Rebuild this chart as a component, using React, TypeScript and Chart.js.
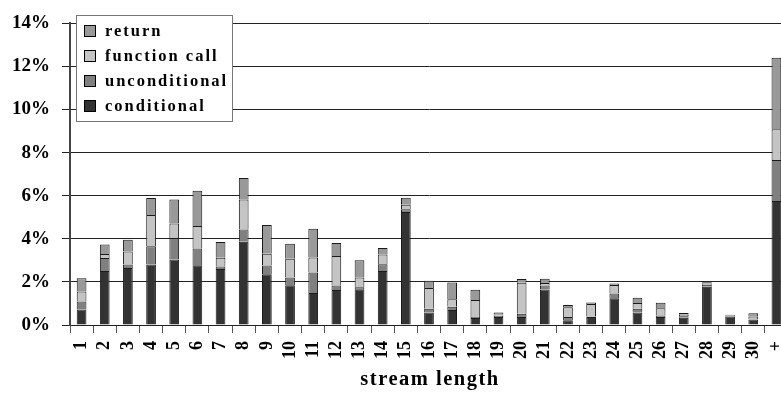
import React, { useEffect, useRef } from 'react';
import { Chart, registerables } from 'chart.js';

Chart.register(...registerables);

const categories = ['1', '2', '3', '4', '5', '6', '7', '8', '9', '10', '11', '12', '13', '14', '15', '16', '17', '18', '19', '20', '21', '22', '23', '24', '25', '26', '27', '28', '29', '30', '+'];
const conditional = [0.72, 2.51, 2.65, 2.81, 3.04, 2.77, 2.60, 3.87, 2.36, 1.84, 1.48, 1.62, 1.66, 2.51, 5.25, 0.58, 0.70, 0.33, 0.37, 0.37, 1.65, 0.22, 0.37, 1.24, 0.58, 0.37, 0.34, 1.78, 0.40, 0.25, 5.76];
const unconditional = [0.37, 0.60, 0.16, 0.85, 1.00, 0.78, 0.12, 0.56, 0.40, 0.36, 0.96, 0.21, 0.09, 0.31, 0.12, 0.17, 0.15, 0.04, 0.06, 0.15, 0.18, 0.15, 0.03, 0.22, 0.17, 0.07, 0.07, 0.09, 0.03, 0.02, 1.90];
const functionCall = [0.47, 0.18, 0.60, 1.45, 0.67, 1.05, 0.40, 1.39, 0.55, 0.88, 0.69, 1.37, 0.46, 0.45, 0.21, 0.97, 0.35, 0.79, 0.06, 1.44, 0.12, 0.45, 0.57, 0.40, 0.27, 0.34, 0.06, 0.04, 0.00, 0.13, 1.43];
const returns = [0.61, 0.45, 0.55, 0.79, 1.11, 1.63, 0.73, 1.00, 1.33, 0.69, 1.34, 0.61, 0.80, 0.30, 0.33, 0.33, 0.77, 0.48, 0.09, 0.18, 0.20, 0.11, 0.08, 0.07, 0.25, 0.25, 0.09, 0.07, 0.05, 0.15, 3.31];
const seriesLabels = ['conditional', 'unconditional', 'function call', 'return'];
const seriesColors = ['#333333', '#808080', '#c4c4c4', '#999999'];
const yMax = 14;
const yStep = 2;
const xTitle = 'stream length';

const FONT = '"Liberation Serif", "Times New Roman", serif';

const overlayPlugin = {
  id: 'overlayLegendTitle',
  afterDraw(chart: any) {
    const ctx = chart.ctx as CanvasRenderingContext2D;
    const area = chart.chartArea;
    const datasets = chart.data.datasets;
    ctx.save();
    // legend box
    const bx = area.left + 6;
    const by = 15;
    const bw = 156;
    const bh = 106;
    ctx.fillStyle = '#ffffff';
    ctx.fillRect(bx, by, bw, bh);
    ctx.strokeStyle = '#777777';
    ctx.lineWidth = 1;
    ctx.strokeRect(bx + 0.5, by + 0.5, bw, bh);
    const order = [...datasets].reverse();
    order.forEach((ds: any, i: number) => {
      const cy = by + 16 + i * 25;
      ctx.fillStyle = ds.backgroundColor;
      ctx.fillRect(bx + 8, cy - 6, 12, 12);
      ctx.strokeStyle = '#000000';
      ctx.lineWidth = 1;
      ctx.strokeRect(bx + 8.5, cy - 5.5, 11, 11);
      ctx.fillStyle = '#000000';
      ctx.font = 'bold 16.5px ' + FONT;
      ctx.textBaseline = 'middle';
      ctx.textAlign = 'left';
      (ctx as any).letterSpacing = '2px';
      ctx.fillText(ds.label, bx + 29, cy + 1);
    });
    // axis title
    ctx.font = 'bold 20.5px ' + FONT;
    (ctx as any).letterSpacing = '1.5px';
    ctx.textAlign = 'center';
    ctx.textBaseline = 'alphabetic';
    ctx.fillStyle = '#000000';
    ctx.fillText(xTitle, (area.left + area.right) / 2 + 1, 385);
    ctx.restore();
  },
};

export default function App() {
  const canvasRef = useRef<HTMLCanvasElement | null>(null);

  useEffect(() => {
    const canvas = canvasRef.current;
    if (!canvas) return;
    const seriesData = [conditional, unconditional, functionCall, returns];
    const chart = new Chart(canvas, {
      type: 'bar',
      data: {
        labels: categories,
        datasets: seriesData.map((d, i) => ({
          label: seriesLabels[i],
          data: d,
          backgroundColor: seriesColors[i],
          borderColor: '#1a1a1a',
          borderWidth: 1,
          barPercentage: 0.42,
          categoryPercentage: 1,
        })),
      },
      options: {
        responsive: false,
        animation: false,
        devicePixelRatio: 1,
        layout: { padding: { top: 11, left: 0, right: 0, bottom: 0 } },
        plugins: {
          legend: { display: false },
          tooltip: { enabled: false },
          title: { display: false },
        },
        scales: {
          x: {
            stacked: true,
            grid: { drawOnChartArea: false, drawTicks: true, tickLength: 8, color: '#555555', offset: true },
            border: { display: true, color: '#222222', width: 1 },
            ticks: {
              minRotation: 90,
              maxRotation: 90,
              autoSkip: false,
              padding: 8,
              color: '#000000',
              font: { family: FONT, size: 18, weight: 'bold' },
            },
            afterFit: (s: any) => {
              s.height = 68;
              s.paddingLeft = 0;
              s.paddingRight = 0;
            },
          },
          y: {
            stacked: true,
            min: 0,
            max: yMax,
            ticks: {
              stepSize: yStep,
              padding: 12,
              color: '#000000',
              font: { family: FONT, size: 19, weight: 'bold' },
              callback: (v: any) => v + '%',
            },
            grid: { color: '#222222', lineWidth: 1, tickLength: 8 },
            border: { display: true, color: '#444444', width: 2 },
            afterFit: (s: any) => {
              s.width = 70;
            },
          },
        },
      },
      plugins: [overlayPlugin],
    } as any);
    return () => chart.destroy();
  }, []);

  return (
    <div style={{ position: 'absolute', left: 0, top: 0, width: 781, height: 393, overflow: 'hidden', background: '#ffffff' }}>
      <canvas ref={canvasRef} width={788} height={393} style={{ display: 'block', width: 788, height: 393 }} />
    </div>
  );
}
